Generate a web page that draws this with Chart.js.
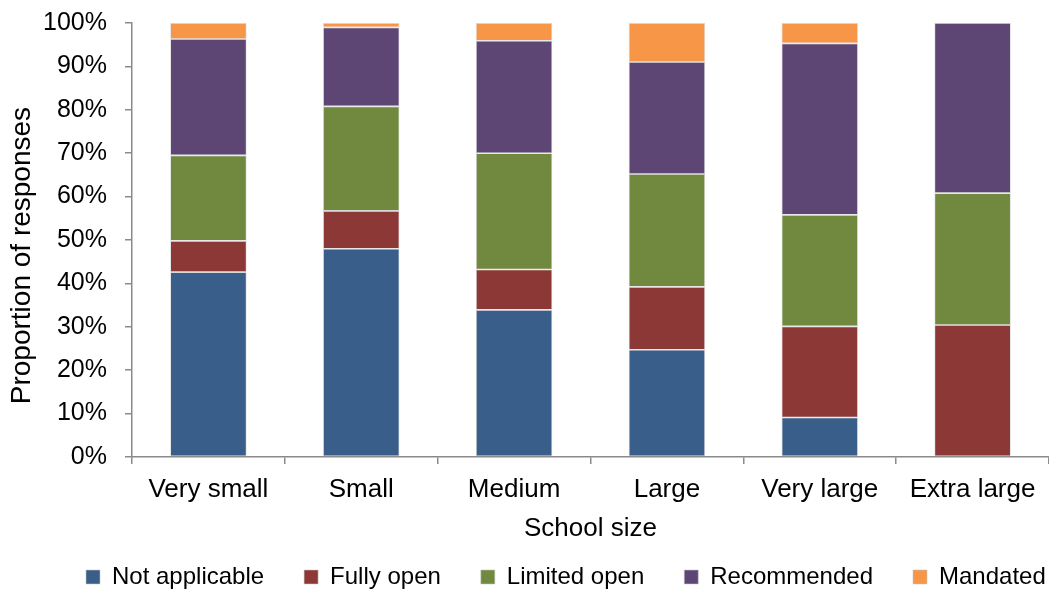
<!DOCTYPE html>
<html><head><meta charset="utf-8">
<script src="https://cdn.jsdelivr.net/npm/chart.js@4/dist/chart.umd.min.js"></script>
<style>html,body{margin:0;padding:0;background:#fff;} #c{display:block;}</style>
</head><body>
<canvas id="c" width="1049" height="592"></canvas>
<script>
const categories = ['Very small', 'Small', 'Medium', 'Large', 'Very large', 'Extra large'];
const notApplicable = [42.6, 48.0, 33.9, 24.7, 9.1, 0];
const fullyOpen     = [7.2, 8.7, 9.3, 14.5, 21.0, 30.4];
const limitedOpen   = [19.7, 24.1, 26.8, 26.0, 25.7, 30.4];
const recommended   = [26.8, 18.2, 25.9, 25.8, 39.5, 39.2];
const mandated      = [3.7, 1.0, 4.1, 9.0, 4.7, 0];
const seriesNames = ['Not applicable', 'Fully open', 'Limited open', 'Recommended', 'Mandated'];
const seriesColors = ['#395E8A', '#8B3836', '#71893F', '#5D4674', '#F79646'];
const yTicks = [0,10,20,30,40,50,60,70,80,90,100];

const seriesData = [notApplicable, fullyOpen, limitedOpen, recommended, mandated];
const AX = '#8a8a8a';
const FONT = "'Liberation Sans', Arial, sans-serif";

const legendShift = {
  id: 'legendShift',
  afterLayout(chart) {
    const l = chart.legend;
    if (l) { l.left += 46; l.right += 46; }
  }
};

new Chart(document.getElementById('c'), {
  type: 'bar',
  plugins: [legendShift],
  data: {
    labels: categories,
    datasets: seriesData.map((d, i) => ({
      label: seriesNames[i],
      data: d,
      backgroundColor: seriesColors[i],
      borderColor: 'rgba(200,200,200,0.7)',
      borderWidth: 0.8,
      borderSkipped: false,
      barPercentage: 0.5,
      categoryPercentage: 1.0
    }))
  },
  options: {
    responsive: false,
    animation: false,
    devicePixelRatio: 1,
    layout: { padding: { top: 23, right: 0, left: 0, bottom: -7 } },
    plugins: {
      tooltip: { enabled: false },
      legend: {
        position: 'bottom',
        align: 'start',
        labels: {
          boxWidth: 14, boxHeight: 14, padding: 40,
          color: '#000',
          font: { family: FONT, size: 24 }
        }
      }
    },
    scales: {
      x: {
        stacked: true,
        afterFit: (s) => { s.height = 68; },
        grid: { offset: true, drawOnChartArea: false, drawTicks: true, tickLength: 7, color: AX, lineWidth: 1.5 },
        border: { color: AX, width: 1.5 },
        ticks: { color: '#000', font: { family: FONT, size: 26 }, padding: 10 },
        title: { display: true, text: 'School size', color: '#000', font: { family: FONT, size: 26 }, padding: { top: 0, bottom: -19.6 } }
      },
      y: {
        stacked: true, min: 0, max: 100,
        afterFit: (s) => { s.width = 132; s.paddingTop = 0; s.paddingBottom = 0; },
        afterBuildTicks: (s) => { s.ticks = yTicks.map(v => ({ value: v })); },
        grid: { drawOnChartArea: false, drawTicks: true, tickLength: 7, color: AX, lineWidth: 1.5 },
        border: { color: AX, width: 1.5 },
        ticks: { color: '#000', font: { family: FONT, size: 25 }, padding: 18, callback: v => v + '%' },
        title: { display: true, text: 'Proportion of responses    ', color: '#000', font: { family: FONT, size: 28 }, padding: { top: 5, bottom: 0 } }
      }
    }
  }
});
</script>
</body></html>
